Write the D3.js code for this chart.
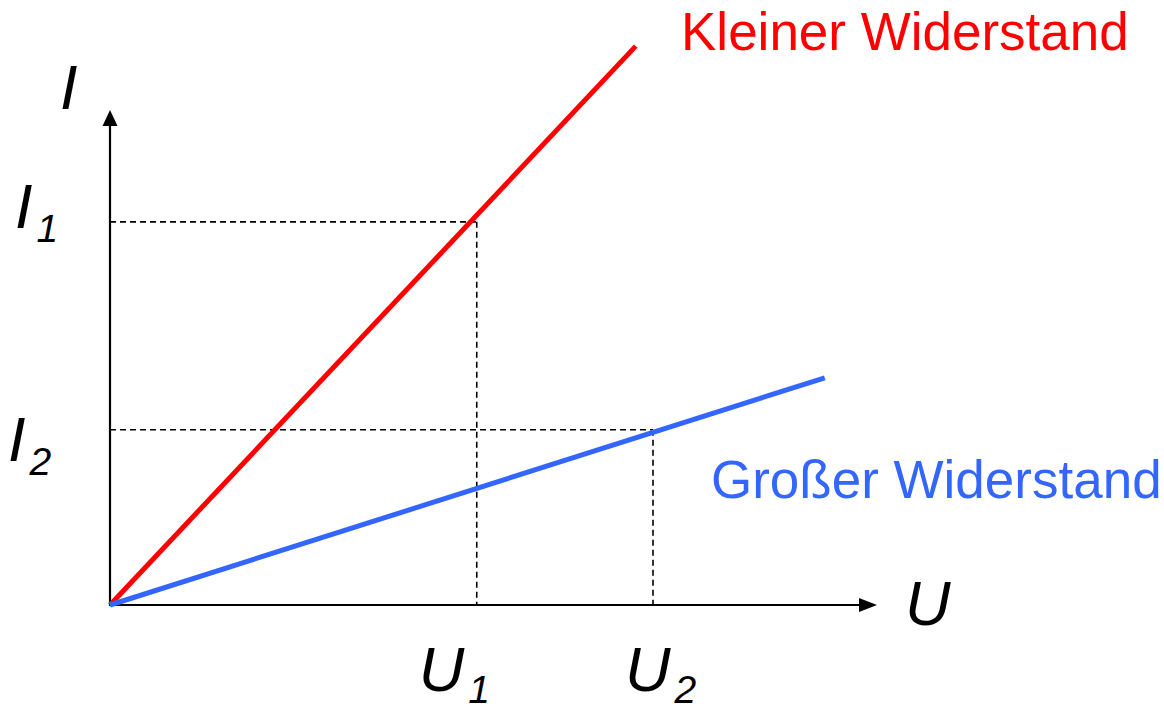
<!DOCTYPE html>
<html><head><meta charset="utf-8">
<script src="https://cdn.jsdelivr.net/npm/d3@7"></script>
<style>html,body{margin:0;padding:0;background:#fff;}svg{display:block;}</style>
</head><body>
<script>
// Data (abstract units)
const uTicks = [4.89, 7.24];          // U1, U2
const iTicks = [7.74, 3.54];          // I1, I2
const tickNames = ["1", "2"];
const seriesNames = ["Kleiner Widerstand", "Großer Widerstand"];
const redLine = [[0, 0], [7.01, 11.29]];
const blueLine = [[0, 0], [9.53, 4.59]];
const seriesColors = ["#ff0000", "#3366ff"];

const W = 1164, H = 707;
const svg = d3.select("body").append("svg").attr("width", W).attr("height", H);
const x = d3.scaleLinear().domain([0, 10]).range([110, 860]);
const y = d3.scaleLinear().domain([0, 10]).range([605, 110]);

// dashed guides
const dash = svg.append("g").attr("stroke", "#000").attr("stroke-width", 1.6).attr("stroke-dasharray", "6,4").attr("fill", "none");
[[uTicks[0], iTicks[0]], [uTicks[1], iTicks[1]]].forEach(([u, i]) => {
  dash.append("line").attr("x1", x(0)).attr("y1", y(i)).attr("x2", x(u)).attr("y2", y(i));
  dash.append("line").attr("x1", x(u)).attr("y1", y(i)).attr("x2", x(u)).attr("y2", y(0));
});

// axes
svg.append("line").attr("x1", x(0)).attr("y1", y(0)).attr("x2", x(10)).attr("y2", y(0)).attr("stroke", "#000").attr("stroke-width", 2.2);
svg.append("line").attr("x1", x(0)).attr("y1", y(0)+1).attr("x2", x(0)).attr("y2", y(10)+14).attr("stroke", "#000").attr("stroke-width", 2.2);
svg.append("path").attr("d", `M${x(10)+17},${y(0)} L${x(10)-1},${y(0)-7} L${x(10)-1},${y(0)+7} Z`).attr("fill", "#000");
svg.append("path").attr("d", `M${x(0)},${y(10)} L${x(0)-7.5},${y(10)+16} L${x(0)+7.5},${y(10)+16} Z`).attr("fill", "#000");

// lines
const line = d3.line().x(d => x(d[0])).y(d => y(d[1]));
svg.append("path").datum(redLine).attr("d", line).attr("stroke", seriesColors[0]).attr("stroke-width", 5).attr("fill", "none");
svg.append("path").datum(blueLine).attr("d", line).attr("stroke", seriesColors[1]).attr("stroke-width", 5).attr("fill", "none");

const font = "'Liberation Sans', Arial, sans-serif";
// axis labels
function lab(tx, ty, main, sub, subDy) {
  const t = svg.append("text").attr("x", tx).attr("y", ty).attr("font-family", font).attr("font-style", "italic").attr("font-size", 63).attr("fill", "#000");
  t.append("tspan").text(main);
  if (sub) t.append("tspan").attr("font-size", 39).attr("dy", subDy || 14).attr("dx", 4).text(sub);
}
lab(x(0) - 50, y(10) - 1, "I");
lab(x(0) + 45 + 750, y(0) + 20, "U");
lab(x(0) - 95, y(iTicks[0]) + 6, "I", tickNames[0]);
lab(x(0) - 102, y(iTicks[1]) + 31, "I", tickNames[1]);
lab(x(uTicks[0]) - 58, y(0) + 86, "U", tickNames[0], 12);
lab(x(uTicks[1]) - 28, y(0) + 86, "U", tickNames[1], 12);

// series labels
svg.append("text").attr("x", 681).attr("y", 50).attr("font-family", font).attr("font-size", 53).attr("fill", seriesColors[0]).text(seriesNames[0]);
svg.append("text").attr("x", 711).attr("y", 498).attr("font-family", font).attr("font-size", 53).attr("fill", seriesColors[1]).text(seriesNames[1]);
</script>
</body></html>
